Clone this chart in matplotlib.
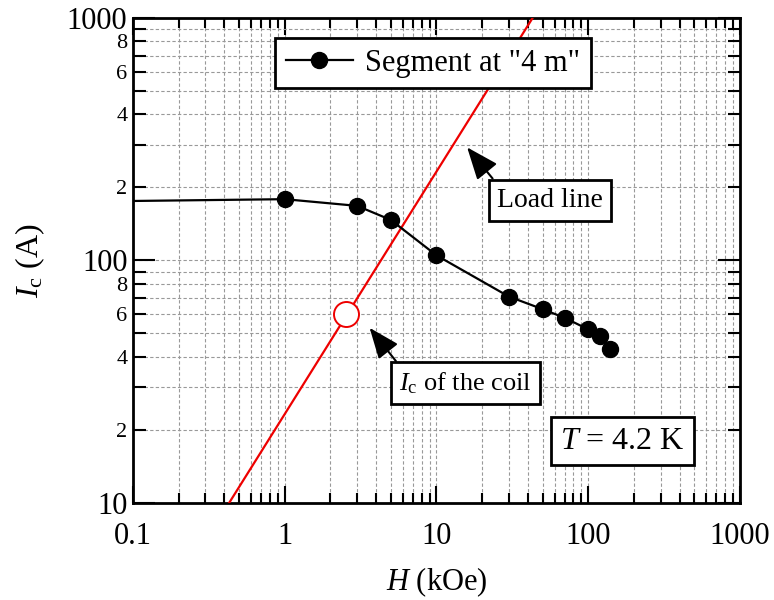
import matplotlib
matplotlib.use('Agg')
import matplotlib.pyplot as plt
from matplotlib.ticker import FixedLocator, FuncFormatter, NullFormatter

plt.rcParams['font.family'] = ['Liberation Serif', 'DejaVu Serif']
plt.rcParams['mathtext.fontset'] = 'custom'
plt.rcParams['mathtext.rm'] = 'Liberation Serif'
plt.rcParams['mathtext.it'] = 'Liberation Serif:italic'

# segment data (H in kOe, Ic in A)
seg_h = [0.01, 1, 3, 5, 10, 30, 50, 70, 100, 120, 140]
seg_i = [173, 179, 168, 147, 105, 71, 63, 58, 52, 49, 43]

# load line end points
load_h = [0.43, 43]
load_i = [10, 1000]

# Ic of the coil
coil_h = [2.55]
coil_i = [60]

fig = plt.figure(figsize=(7.74, 6), dpi=100)
ax = fig.add_axes([0.1718, 0.1617, 0.7842, 0.8083])

ax.plot(load_h, load_i, color='#ee0000', lw=1.6, zorder=3)
ax.plot(seg_h, seg_i, color='black', lw=1.6, marker='o', markersize=11.5,
        label='Segment at "4 m"', zorder=4)
ax.plot(coil_h, coil_i, ls='none', marker='o', markersize=18, mfc='white',
        mec='#ee0000', mew=1.4, zorder=5)

ax.set_xscale('log')
ax.set_yscale('log')
ax.set_xlim(0.1, 1000)
ax.set_ylim(10, 1000)

ax.yaxis.set_major_locator(FixedLocator([10, 100, 1000]))
ax.yaxis.set_major_formatter(FuncFormatter(lambda v, p: '%d' % v))
ymin = [m * d for d in (10, 100) for m in range(2, 10)]
ax.yaxis.set_minor_locator(FixedLocator(ymin))
def minor_fmt(v, p):
    lead = int(round(v / (10 ** int(len(str(int(round(v)))) - 1))))
    return str(lead) if lead in (2, 4, 6, 8) else ''
ax.yaxis.set_minor_formatter(FuncFormatter(minor_fmt))

ax.xaxis.set_major_locator(FixedLocator([0.1, 1, 10, 100, 1000]))
ax.xaxis.set_major_formatter(FuncFormatter(lambda v, p: ('%g' % v)))
xmin = [m * d for d in (0.1, 1, 10, 100) for m in range(2, 10)]
ax.xaxis.set_minor_locator(FixedLocator(xmin))
ax.xaxis.set_minor_formatter(NullFormatter())

ax.tick_params(which='both', direction='in', top=True, right=True, width=1.5)
ax.tick_params(axis='x', which='major', length=12, labelsize=22, pad=14)
ax.tick_params(axis='x', which='minor', length=7)
ax.tick_params(axis='y', which='major', length=16, labelsize=22, pad=4)
ax.tick_params(axis='y', which='minor', length=9, labelsize=16, pad=4)
for s in ax.spines.values():
    s.set_linewidth(2)

ax.grid(True, which='both', ls=(0, (3, 2)), color='#999999', lw=0.8)
ax.set_axisbelow(True)

ax.set_xlabel(r'$H$ (kOe)', fontsize=22, labelpad=10)
ax.set_ylabel(r'$I_\mathrm{c}$ (A)', fontsize=23, labelpad=14)

leg = ax.legend(loc='upper left', bbox_to_anchor=(0.234, 0.959), borderaxespad=0,
                fontsize=22, fancybox=False, framealpha=1, edgecolor='black',
                handlelength=2.2, handletextpad=0.4, borderpad=0.35)
leg.get_frame().set_linewidth(2)

box = dict(boxstyle='square,pad=0.3', fc='white', ec='black', lw=2)
arr = dict(arrowstyle='-|>,head_length=1.0,head_width=0.4', color='black', lw=1.5,
           shrinkA=0, shrinkB=4, relpos=(0.03, 1))
ax.annotate('Load line', xy=(15.1, 305), xytext=(56, 177), fontsize=20,
            ha='center', va='center', bbox=box, arrowprops=arr, zorder=6)
ax.annotate(r'$I_\mathrm{c}$ of the coil', xy=(3.44, 55), xytext=(15.5, 31.3),
            fontsize=19, ha='center', va='center', bbox=box, arrowprops=arr, zorder=6)
ax.text(168, 18, r'$T$ = 4.2 K', fontsize=23, ha='center', va='center', bbox=box,
        zorder=6)

fig.savefig('out.png', dpi=100)
